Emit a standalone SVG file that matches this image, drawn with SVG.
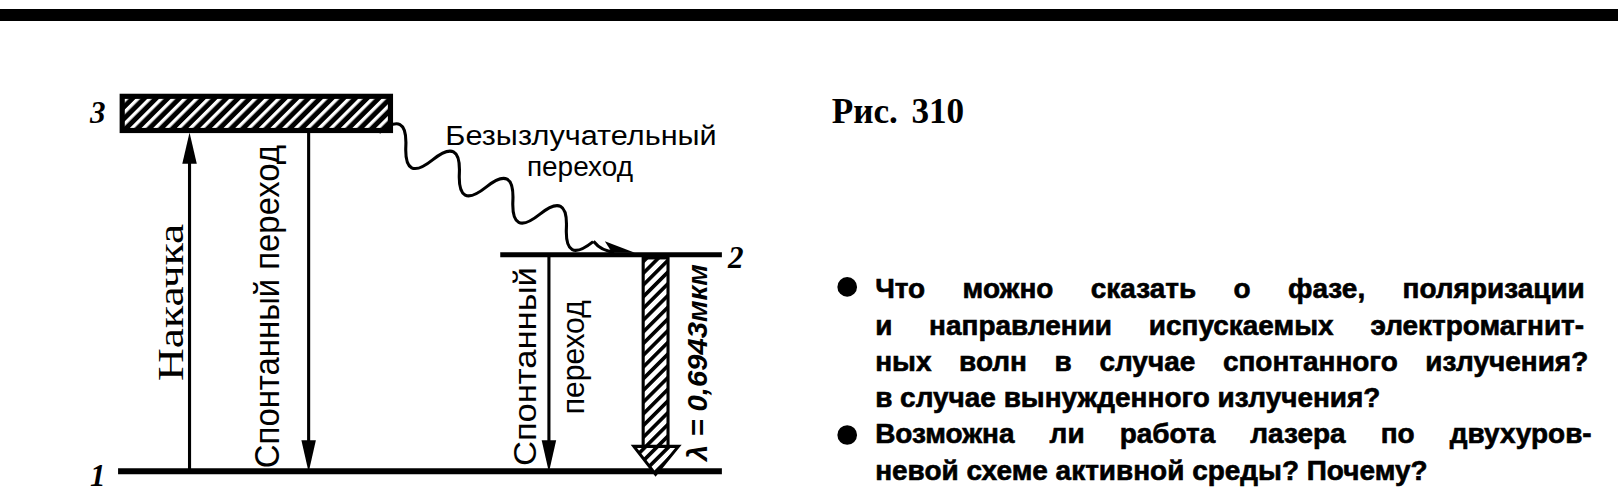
<svg xmlns="http://www.w3.org/2000/svg" width="1622" height="500" viewBox="0 0 1622 500">
<style>
.lbl{font-family:"Liberation Sans",Arial,sans-serif;fill:#000}
.num{font-family:"Liberation Serif","Times New Roman",serif;font-style:italic;font-weight:bold;font-size:30px;fill:#000}
.q{font-family:"Liberation Sans",Arial,sans-serif;font-weight:bold;font-size:27px;fill:#000;stroke:#000;stroke-width:0.6px}
.lvl{stroke:#000;fill:none}
.ln{stroke:#000;stroke-width:3;fill:none}
</style>
<defs>
<pattern id="hatch" patternUnits="userSpaceOnUse" width="8" height="8" patternTransform="rotate(45)">
<rect width="8" height="8" fill="#000"/>
<rect x="0" y="0" width="3.2" height="8" fill="#fff"/>
</pattern>
<pattern id="hatch2" patternUnits="userSpaceOnUse" width="8" height="8" patternTransform="rotate(45)">
<rect width="8" height="8" fill="#fff"/>
<rect x="0" y="0" width="3.5" height="8" fill="#000"/>
</pattern>
</defs>
<rect width="1622" height="500" fill="#fff"/>
<rect id="topbar" x="0" y="9" width="1618" height="12" fill="#000"/>

<g transform="scale(1.0357)">
<g id="level3">
<rect x="118" y="93" width="259" height="33" fill="url(#hatch)" stroke="#000" stroke-width="5"/>
<text class="num" x="87" y="119">3</text>
</g>
<g id="level2">
<line class="lvl" x1="483" y1="246" x2="697" y2="246" stroke-width="5"/>
<text class="num" x="703" y="259">2</text>
</g>
<g id="level1">
<line class="lvl" x1="114" y1="455" x2="697" y2="455" stroke-width="6"/>
<text class="num" x="87" y="469">1</text>
</g>

<g id="connectors">
<g id="pump">
<line class="ln" x1="183" y1="150" x2="183" y2="455"/>
<polygon points="183,128 176,158 190,158" fill="#000"/>
</g>
<g id="spont1">
<line class="ln" x1="298" y1="127" x2="298" y2="430"/>
<polygon points="298,456 291,425 305,425" fill="#000"/>
</g>
<g id="spont2">
<line class="ln" x1="530" y1="248" x2="530" y2="430"/>
<polygon points="530,456 523,425 537,425" fill="#000"/>
</g>
<g id="nonrad">
<path class="ln" stroke-width="3.5" transform="translate(366,128) rotate(27)" d="M0 0 q14.5 -32 29 0 t29 0 t29 0 t29 0 t29 0 t29 0 t29 0 t29 0"/>
<path class="ln" stroke-width="3.5" d="M573 233 q8 10 20 10"/>
<polygon points="613,244 584,233 591,244" fill="#000"/>
</g>
<g id="laser">
<rect x="621" y="249" width="24" height="183" fill="url(#hatch2)" stroke="#000" stroke-width="3"/>
<polygon points="612,431 655,431 633,458" fill="url(#hatch2)" stroke="#000" stroke-width="3"/>
</g>
</g>

<g id="labels">
<text transform="translate(177,292) rotate(-90)" text-anchor="middle" style="font-family:'Liberation Serif','Times New Roman',serif;font-size:34px" textLength="152" lengthAdjust="spacingAndGlyphs">Накачка</text>
<text class="lbl" transform="translate(269,296) rotate(-90)" text-anchor="middle" textLength="312" lengthAdjust="spacingAndGlyphs" style="font-size:33px">Спонтанный переход</text>
<text class="lbl" transform="translate(518,354) rotate(-90)" text-anchor="middle" textLength="192" lengthAdjust="spacingAndGlyphs" style="font-size:31px">Спонтанный</text>
<text class="lbl" transform="translate(564,345) rotate(-90)" text-anchor="middle" textLength="110" lengthAdjust="spacingAndGlyphs" style="font-size:31px">переход</text>
<text class="lbl" x="430" y="140" textLength="262" lengthAdjust="spacingAndGlyphs" style="font-size:27px">Безызлучательный</text>
<text class="lbl" x="560" y="170" text-anchor="middle" style="font-size:27px">переход</text>
<text transform="translate(683,350) rotate(-90)" text-anchor="middle" textLength="190" lengthAdjust="spacingAndGlyphs" style="font-family:'Liberation Sans',Arial,sans-serif;font-style:italic;font-weight:bold;font-size:27px">λ = 0,6943мкм</text>
</g>

<g id="caption">
<text x="803" y="119" style="font-family:'Liberation Serif','Times New Roman',serif;font-weight:bold;font-size:34px">Рис. <tspan x="880">310</tspan></text>
</g>

<g id="questions">
<circle cx="818" cy="277" r="9.5" fill="#000"/>
<circle cx="818" cy="420" r="9.5" fill="#000"/>
<text class="q" x="845" y="288" style="word-spacing:28.6px">Что можно сказать о фазе, поляризации</text>
<text class="q" x="845" y="323" style="word-spacing:28px">и направлении испускаемых электромагнит-</text>
<text class="q" x="845" y="358" style="word-spacing:19.2px">ных волн в случае спонтанного излучения?</text>
<text class="q" x="845" y="393">в случае вынужденного излучения?</text>
<text class="q" x="845" y="428" style="word-spacing:26.4px">Возможна ли работа лазера по двухуров-</text>
<text class="q" x="845" y="463">невой схеме активной среды? Почему?</text>
</g>
</g>
</svg>
